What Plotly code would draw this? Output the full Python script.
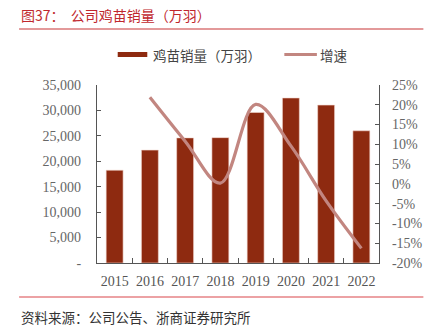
import plotly.graph_objects as go

years = ["2015", "2016", "2017", "2018", "2019", "2020", "2021", "2022"]
volume = [18250, 22200, 24600, 24650, 29600, 32450, 31050, 26000]
growth_years = ["2016", "2017", "2018", "2019", "2020", "2021", "2022"]
growth = [21.9, 10.8, 0.2, 20.1, 9.6, -4.3, -16.3]

left_ticks = [0, 5000, 10000, 15000, 20000, 25000, 30000, 35000]
left_labels = ["-", "5,000", "10,000", "15,000", "20,000", "25,000", "30,000", "35,000"]
right_ticks = [-20, -15, -10, -5, 0, 5, 10, 15, 20, 25]
right_labels = ["-20%", "-15%", "-10%", "-5%", "0%", "5%", "10%", "15%", "20%", "25%"]

W, H = 435, 327
L, R, T, B = 97, 52, 85, 64
pw, ph = W - L - R, H - T - B

def px(x):
    return (x - L) / pw

def py(y):
    return (H - B - y) / ph

serif = "Liberation Serif, Times New Roman, serif"
cjk = "Noto Sans CJK SC, sans-serif"
bar_color = "#8E2A10"
line_color = "#C28680"

fig = go.Figure()
fig.add_trace(go.Bar(
    x=years, y=volume, name="鸡苗销量（万羽）",
    marker=dict(color=bar_color, line=dict(color="#F3D9D0", width=0.6)),
    width=0.48, yaxis="y",
))
fig.add_trace(go.Scatter(
    x=growth_years, y=growth, name="增速", mode="lines",
    line=dict(color=line_color, width=3.2, shape="spline", smoothing=1.0),
    yaxis="y2",
))

fig.update_layout(
    width=W, height=H,
    margin=dict(l=L, r=R, t=T, b=B),
    paper_bgcolor="white", plot_bgcolor="white",
    showlegend=False,
    xaxis=dict(showline=True, linecolor="#555", linewidth=1.2, ticks="inside",
               tickson="boundaries", ticklen=5, tickcolor="#555",
               ticklabelstandoff=5, tickangle=0,
               tickfont=dict(family=serif, size=14, color="#555"), showgrid=False),
    yaxis=dict(range=[0, 35000], tickvals=left_ticks, ticktext=left_labels,
               showline=True, linecolor="#555", linewidth=1.2, ticks="inside",
               ticklen=4, tickcolor="#555", showgrid=False, zeroline=False,
               ticklabelstandoff=12,
               tickfont=dict(family=serif, size=14, color="#666")),
    yaxis2=dict(range=[-20, 25], tickvals=right_ticks, ticktext=right_labels,
                overlaying="y", side="right",
                showline=True, linecolor="#555", linewidth=1.2, ticks="inside",
                ticklen=4, tickcolor="#555", showgrid=False, zeroline=False,
                ticklabelstandoff=9,
                tickfont=dict(family=serif, size=14, color="#666")),
)

# title and header rule
fig.add_annotation(text="图37：  公司鸡苗销量（万羽）", xref="paper", yref="paper",
                   x=px(18), y=py(15), xanchor="left", yanchor="middle", showarrow=False,
                   font=dict(family=cjk, size=14, color="#C0272D"))
fig.add_shape(type="line", xref="paper", yref="paper", x0=px(18), x1=px(428),
              y0=py(29), y1=py(29), line=dict(color="#E3999A", width=2))

# legend
fig.add_shape(type="rect", xref="paper", yref="paper", x0=px(118), x1=px(148),
              y0=py(57), y1=py(52), fillcolor=bar_color, line=dict(width=0))
fig.add_annotation(text="鸡苗销量（万羽）", xref="paper", yref="paper",
                   x=px(152), y=py(55), xanchor="left", yanchor="middle", showarrow=False,
                   font=dict(family=cjk, size=13.5, color="#444"))
fig.add_shape(type="line", xref="paper", yref="paper", x0=px(287), x1=px(320),
              y0=py(54.5), y1=py(54.5), line=dict(color=line_color, width=3.2))
fig.add_annotation(text="增速", xref="paper", yref="paper",
                   x=px(321), y=py(55), xanchor="left", yanchor="middle", showarrow=False,
                   font=dict(family=cjk, size=13.5, color="#444"))

# footer rule and source
fig.add_shape(type="line", xref="paper", yref="paper", x0=px(18), x1=px(428),
              y0=py(297), y1=py(297), line=dict(color="#D9464A", width=1.2))
fig.add_annotation(text="资料来源：公司公告、浙商证券研究所", xref="paper", yref="paper",
                   x=px(18), y=py(317), xanchor="left", yanchor="middle", showarrow=False,
                   font=dict(family=cjk, size=13.5, color="#333"))

fig.write_html("out.html")
